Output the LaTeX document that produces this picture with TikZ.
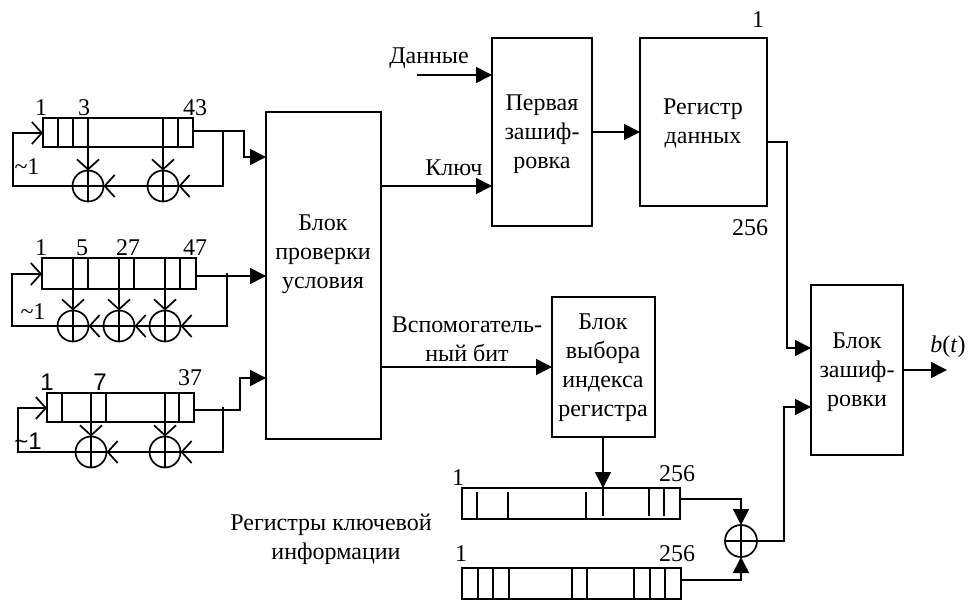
\documentclass[tikz,border=0pt]{standalone}
\usepackage{fontspec}
\setmainfont{Liberation Serif}
\newfontfamily\arialf{Liberation Sans}
\usetikzlibrary{arrows.meta}
\tikzset{
  every node/.style={font=\fontsize{24}{29}\selectfont},
  wire/.style={line width=1.7pt,line cap=butt,line join=miter},
  sig/.style={wire,-{Triangle[length=16pt,width=16pt]}},
  barb/.style={wire,-{Straight Barb[length=10pt,width=22pt,line width=1.7pt]}},
  block/.style={draw,line width=1.7pt,inner sep=0pt,outer sep=0pt,align=center,anchor=north west},
  lbl/.style={inner sep=0pt,outer sep=0pt,align=center},
  xorgate/.style={circle,draw,line width=1.7pt,inner sep=0pt,outer sep=0pt,minimum size=31pt,
    path picture={\draw[line width=1.7pt] (path picture bounding box.north)--(path picture bounding box.south)
      (path picture bounding box.west)--(path picture bounding box.east);}},
}
\begin{document}
\begin{tikzpicture}[x=1pt,y=-1pt]
\useasboundingbox (0,0) rectangle (971,601);
% main blocks
\node[block,minimum width=115pt,minimum height=327pt] (main) at (266,112) {};
\node[lbl] at (323,254) {Блок\\проверки\\условия};
\node[block,minimum width=100pt,minimum height=188pt] (first) at (492,38) {};
\node[lbl] at (542,134) {Первая\\зашиф-\\ровка};
\node[block,minimum width=127pt,minimum height=168pt] (data) at (640,38) {};
\node[lbl] at (703,123) {Регистр\\данных};
\node[block,minimum width=103pt,minimum height=140pt] (sel) at (552,297) {};
\node[lbl] at (603,368) {Блок\\выбора\\индекса\\регистра};
\node[block,minimum width=92pt,minimum height=170pt] (enc) at (811,285) {};
\node[lbl] at (857,372) {Блок\\зашиф-\\ровки};
% register 1
\node[block,minimum width=150pt,minimum height=29pt] (ra) at (43,118) {};
\foreach \x in {58,73,88,163,178} \draw[wire] (\x,118)--(\x,147);
\node[xorgate] (xa1) at (88,186) {};
\node[xorgate] (xa2) at (163,186) {};
\coordinate (ta) at (223,131);
\coordinate (la) at (13,186);
\coordinate (ia) at (244,131);
\coordinate (fa) at (13,133);
\draw[barb] (ra.south -| xa1) -- (xa1.north);
\draw[barb] (ra.south -| xa2) -- (xa2.north);
\draw[barb] (ta) -- (ta |- xa2) -- (xa2.east);
\draw[barb] (xa2.west) -- (xa1.east);
\draw[barb] (xa1.west) -- (la) -- (fa) -- (fa -| ra.west);
\coordinate (ma) at (266,157);
\draw[sig] (ra.east |- ta) -- (ia) -- (ia |- ma) -- (ma);
\node[lbl] (a1) at (41,108) {1};
\node[lbl] (a3) at (84,108) {3};
\node[lbl] (a43) at (195,108) {43};
\node[lbl] (at) at (27,167) {\textasciitilde 1};
% register 2
\node[block,minimum width=154pt,minimum height=31pt] (rb) at (42,258) {};
\foreach \x in {73,88,119,134,165,180} \draw[wire] (\x,258)--(\x,289);
\node[xorgate] (xb1) at (73,326) {};
\node[xorgate] (xb2) at (119,326) {};
\node[xorgate] (xb3) at (165,326) {};
\coordinate (tb) at (227,273);
\coordinate (lb) at (12,326);
\coordinate (fb) at (12,274);
\coordinate (mb) at (266,276);
\draw[barb] (rb.south -| xb1) -- (xb1.north);
\draw[barb] (rb.south -| xb2) -- (xb2.north);
\draw[barb] (rb.south -| xb3) -- (xb3.north);
\draw[barb] (tb) -- (tb |- xb3) -- (xb3.east);
\draw[barb] (xb3.west) -- (xb2.east);
\draw[barb] (xb2.west) -- (xb1.east);
\draw[barb] (xb1.west) -- (lb) -- (fb) -- (fb -| rb.west);
\draw[sig] (rb.east |- mb) -- (mb);
\node[lbl] (b1) at (41,248) {1};
\node[lbl] (b5) at (82,248) {5};
\node[lbl] (b27) at (128,248) {27};
\node[lbl] (b47) at (195,248) {47};
\node[lbl] (bt) at (33,312) {\textasciitilde 1};
% register 3
\node[block,minimum width=147pt,minimum height=29pt] (rc) at (47,393) {};
\foreach \x in {62,91,106,165,179} \draw[wire] (\x,393)--(\x,422);
\node[xorgate] (xc1) at (91,452) {};
\node[xorgate] (xc2) at (165,452) {};
\coordinate (tc) at (223,407);
\coordinate (lc) at (18,452);
\coordinate (fc) at (18,408);
\coordinate (oc) at (240,410);
\coordinate (mc) at (266,378);
\draw[barb] (rc.south -| xc1) -- (xc1.north);
\draw[barb] (rc.south -| xc2) -- (xc2.north);
\draw[barb] (tc) -- (tc |- xc2) -- (xc2.east);
\draw[barb] (xc2.west) -- (xc1.east);
\draw[barb] (xc1.west) -- (lc) -- (fc) -- (fc -| rc.west);
\draw[sig] (rc.east |- oc) -- (oc) -- (oc |- mc) -- (mc);
\node[lbl] (c1) at (47,382) {\arialf 1};
\node[lbl] (c7) at (100,382) {\arialf 7};
\node[lbl] (c37) at (190,378) {37};
\node[lbl] (ct) at (28,441) {\arialf\textasciitilde 1};
% top connections
\coordinate (din) at (417,75);
\draw[sig] (din) -- (din -| first.west);
\node[lbl] at (429,58) {Данные};
\coordinate (kl) at (381,186);
\draw[sig] (kl) -- (kl -| first.west);
\node[lbl] at (454,168) {Ключ};
\coordinate (fd) at (592,132);
\draw[sig] (fd) -- (fd -| data.west);
\node[lbl] at (758,20) {1};
\node[lbl] at (750,228) {256};
\coordinate (dq) at (787,142);
\coordinate (ei) at (811,348);
\draw[sig] (dq -| data.east) -- (dq) -- (dq |- ei) -- (ei);
% auxiliary bit
\coordinate (ab) at (381,367);
\draw[sig] (ab) -- (ab -| sel.west);
\node[lbl] at (467,339) {Вспомогатель-\\ный бит};
% key registers
\node[block,minimum width=218pt,minimum height=31pt] (rk1) at (462,488) {};
\node[block,minimum width=219pt,minimum height=31pt] (rk2) at (462,568) {};
\foreach \x in {477,508,586} \draw[wire] (\x,492)--(\x,519);
\foreach \x in {649,664} \draw[wire] (\x,488)--(\x,516);
\foreach \x in {478,493,509,572,587,634,650,665} \draw[wire] (\x,568)--(\x,599);
\node[xorgate,minimum size=32pt] (xk) at (741,541) {};
\coordinate (sk) at (603,437);
\draw[wire] (603,488)--(603,516);
\draw[sig] (sk) -- (sk |- rk1.north);
\coordinate (k1o) at (680,499);
\coordinate (k2o) at (681,580);
\draw[sig] (k1o) -- (k1o -| xk) -- (xk.north);
\draw[sig] (k2o) -- (k2o -| xk) -- (xk.south);
\coordinate (eo) at (784,407);
\draw[sig] (xk.east) -- (xk.east -| eo) -- (eo) -- (eo -| enc.west);
\node[lbl] at (458,478) {1};
\node[lbl] at (677,474) {256};
\node[lbl] at (461,554) {1};
\node[lbl] at (677,554) {256};
\node[lbl] at (331,539) {Регистры ключевой\\\hspace*{10pt}информации};
% output
\coordinate (bt) at (947,370);
\draw[sig] (enc.east |- bt) -- (bt);
\node[lbl] at (948,347) {\textit{b}(\textit{t})};
\end{tikzpicture}
\end{document}
